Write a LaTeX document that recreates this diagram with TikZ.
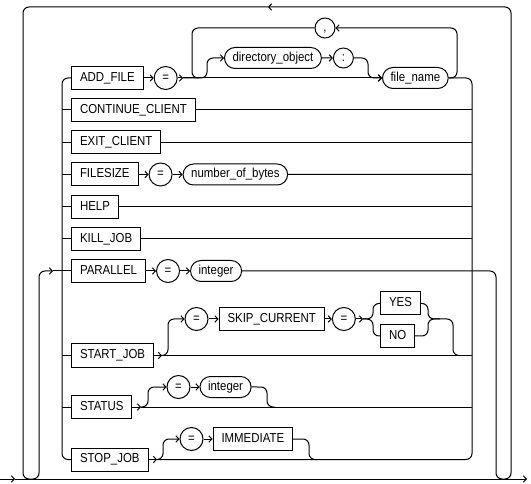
\documentclass[tikz,border=0pt]{standalone}
\usepackage{fontspec}
\setmainfont{Liberation Sans}[FakeStretch=0.88]
\usetikzlibrary{positioning, arrows.meta, shapes.misc}

\begin{document}
\begin{tikzpicture}[>={Straight Barb[length=3pt,width=6.5pt]},line width=1pt,x=1pt,y=-1pt,node distance=10pt,font=\fontsize{13}{15}\selectfont]
        \tikzstyle{kw}=[draw, rectangle, minimum height=23pt, inner xsep=8.5pt, inner ysep=0pt, text height=9.5pt, text depth=3pt]
        \tikzstyle{var}=[draw, rounded rectangle, minimum height=21pt, inner xsep=6pt, inner ysep=0pt, text height=9.5pt, text depth=3pt]
        \tikzstyle{sym}=[draw, circle, minimum size=23pt, inner sep=0pt, text height=8pt, text depth=1pt]
        \tikzstyle{rail}=[rounded corners=6pt]

        \useasboundingbox (0,0) rectangle (531,484);

        \node[kw, anchor=west]  (addfile)  at (71,78)    {ADD\_FILE};
        \node[sym, right=of addfile]      (eqA)          {=};
        \node[var, anchor=west] (dirobj)   at (224,58)   {directory\_object};
        \node[sym, minimum size=20pt, right=11pt of dirobj] (colon) {:};
        \node[var, anchor=west] (fname)    at (382,78)   {file\_name};
        \node[sym, minimum size=20pt]     (sep) at (325,28) {,};
        \node[kw, anchor=west]  (contc)    at (71,110)   {CONTINUE\_CLIENT};
        \node[kw, anchor=west]  (exitc)    at (71,142.5) {EXIT\_CLIENT};
        \node[kw, anchor=west]  (fsize)    at (71,174.5) {FILESIZE};
        \node[sym, right=of fsize]        (eqF)          {=};
        \node[var, right=of eqF]          (nbytes)       {number\_of\_bytes};
        \node[kw, anchor=west]  (help)     at (71,207)   {HELP};
        \node[kw, anchor=west]  (killjob)  at (71,239)   {KILL\_JOB};
        \node[kw, anchor=west]  (para)     at (71,271)   {PARALLEL};
        \node[sym, right=of para]         (eqP)          {=};
        \node[var, right=of eqP]          (intP)         {integer};
        \node[kw, anchor=west]  (startjob) at (71,355.5) {START\_JOB};
        \node[sym]              (eqS)      at (196.5,319) {=};
        \node[kw, right=of eqS]           (skip)         {SKIP\_CURRENT};
        \node[sym, right=7pt of skip]     (eqY)          {=};
        \node[kw, anchor=west]  (yes)      at (380,303.5) {YES};
        \node[kw, anchor=west]  (no)       at (380,336)  {NO};
        \node[kw, anchor=west]  (status)   at (71,407)   {STATUS};
        \node[sym]              (eqT)      at (178.5,387) {=};
        \node[var, right=9pt of eqT]      (intT)         {integer};
        \node[kw, anchor=west]  (stopjob)  at (71,459.5) {STOP\_JOB};
        \node[sym]              (eqJ)      at (191.5,439) {=};
        \node[kw, right=9pt of eqJ]       (imm)          {IMMEDIATE};

        \coordinate (L)   at (62,78);
        \coordinate (R)   at (472,78);
        \coordinate (in)  at (0,479);
        \coordinate (inA) at (15,479);
        \coordinate (out) at (527,479);
        \coordinate (top) at (268,7);
        \coordinate (back) at (53,271);
        \coordinate (aA)  at (183,78);
        \coordinate (aY)  at (363,319);
        \coordinate (jS)  at (162,355.5);
        \coordinate (jT)  at (141,407);
        \coordinate (jJ)  at (157,459.5);

        \draw[->] (in) -- (inA);
        \draw[->] (inA) -- (out);
        \draw[rail,->] (intP) -- (496,271) -- (496,479) -- (511,479) -- (511,7) -- (top);
        \draw[rail,->] (top) -- (23,7) -- (23,479) -- (39,479) -- (39,271) -- (back);
        \draw (back) -- (para);

        \draw[rail] (addfile.west) -- (L) -- (L |- stopjob) -- (stopjob.west);
        \foreach \n in {contc, exitc, fsize, help, killjob, startjob, status}
            \draw (L |- \n.west) -- (\n.west);
        \draw[rail] (fname.east) -- (R) -- (R |- stopjob) -- (jJ);
        \foreach \n in {contc, exitc, nbytes, help, killjob}
            \draw (\n) -- (R |- \n);

        \path[->] (addfile) edge (eqA)
                  (eqA)     edge (aA)
                  (aA)      edge (fname)
                  (dirobj)  edge (colon)
                  (fsize)   edge (eqF)
                  (eqF)     edge (nbytes)
                  (para)    edge (eqP)
                  (eqP)     edge (intP)
                  (startjob) edge (jS)
                  (eqS)     edge (skip)
                  (skip)    edge (eqY)
                  (eqY)     edge (aY)
                  (status)  edge (jT)
                  (eqT)     edge (intT)
                  (stopjob) edge (jJ)
                  (eqJ)     edge (imm);

        \draw[rail,->] (aA) -- (207,78) -- (207,58) -- (dirobj);
        \draw[rail,->] (colon) -- (368,58) -- (368,78) -- (fname);
        \draw[rail,->] (fname.east) -- (457,78) -- (457,28) -- (sep);
        \draw[rail] (sep) -- (192,28) -- (192,78) -- (199,78);

        \draw (jS) -- (R |- startjob);
        \draw[rail,->] (jS) -- (168,355.5) -- (168,319) -- (eqS);
        \draw[rail] (aY) -- (373,319) -- (373,303.5) -- (yes);
        \draw[rail] (aY) -- (373,319) -- (373,336) -- (no);
        \draw[rail] (yes) -- (428,303.5) -- (428,319) -- (453,319) -- (453,355.5) -- (460,355.5);
        \draw[rail] (no) -- (428,336) -- (428,319) -- (440,319);

        \draw (jT) -- (R |- status);
        \draw[rail,->] (jT) -- (148,407) -- (148,387) -- (eqT);
        \draw[rail] (intT) -- (267,387) -- (267,407) -- (275,407);

        \draw[rail,->] (jJ) -- (163,459.5) -- (163,439) -- (eqJ);
        \draw[rail] (imm) -- (309,439) -- (309,459.5) -- (317,459.5);
\end{tikzpicture}
\end{document}
